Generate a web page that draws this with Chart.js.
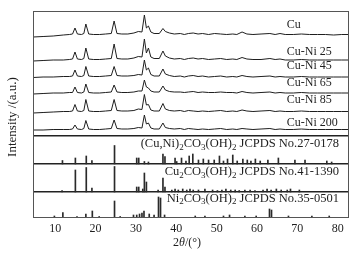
<!DOCTYPE html>
<html><head><meta charset="utf-8">
<script src="https://cdn.jsdelivr.net/npm/chart.js@4/dist/chart.umd.min.js"></script>
<style>html,body{margin:0;padding:0;background:#fff}#wrap{width:358px;height:256px;position:relative}</style>
</head><body><div id="wrap"><canvas id="c"></canvas></div>
<script>
// ---------- DATA ----------
const xrdTwoTheta = [4.5,7,9.5,12,13.5,14.3,14.9,15.5,16.5,17.1,17.6,18.3,19.5,21,22.5,23.9,24.6,25.3,26.5,28,29.5,30.6,31.5,32.1,32.6,33.1,33.7,34.5,35.8,36.7,37.3,38.3,39.5,41,42,43,44.2,45.4,46.5,48,49.5,51,52.5,54,55,56.3,57.5,59,61,63.2,64.5,65.7,67,69,71,73,75,77,79,81,82.8];
const cuCurve = [181,181.5,182,183,183.5,184,190,184,183.5,184.5,194,184,183.5,183.5,184,184.5,197,184.5,184,184,185,186.5,186,203,190,192,186,184.5,184.5,189.5,186.5,185,184,184.5,183.5,184.5,185,184,184.5,183.5,184.5,184,183.5,184,183.5,186,184,183.5,184,184.5,183.5,184.5,183.5,183.5,184,183.5,183.5,183.5,183,183.5,183.5];
const cuNi25Curve = [157,157.5,158,158,158.5,159,166,159,158.5,159.5,170,159,158.5,158.5,159,159.5,174,159.5,159,159,160,161.5,161,179,165,170,161,159.5,159.5,167,162,160,159,159.5,158.5,159.5,160,159,159.5,158.5,159,159.5,158.5,159,158.5,160.5,159,158.5,158.5,159.5,158.5,159,158,158,158.5,158,158,158,158,158,158];
const cuNi45Curve = [140.5,141,141,141.5,141.5,142,148,142,141.5,142.5,151.5,142,141.5,141.5,142,142.5,151.5,142.5,142,142,142.5,143.5,143,158,148,150,143.5,142,142,149,144,142.5,141.5,142,141,142,142.5,141.5,142,141,141.5,142,141,141.5,141,142.5,141.5,141,141.5,142,141,141.5,141,141,141.5,141,141,141,141,141,141];
const cuNi65Curve = [124,124.5,125,125,125.5,125.5,131,125.5,125,126,134,125.5,125,125,125.5,126,133,126,125.5,125.5,126,127,127,138,131,130,127,126,126,132,128,126.5,126,126,125.5,126,126.5,125.5,126,125.5,125.5,126,125.5,125.5,125,126.5,125.5,125,125.5,126,125,125.5,125,125,125.5,125,125,125,125,125,125];
const cuNi85Curve = [105,105.5,106,106.5,106.5,107,113.5,107,106.5,107.5,118.5,107,106.5,106.5,107,107.5,118.5,107.5,107,107,107.5,109,108.5,123.5,113,113.5,108,107,107,114.5,109,107.5,107,107.5,106.5,107.5,107,106.5,107,106.5,107,107.5,106.5,107,106.5,108,107,106.5,107,107.5,106.5,107,106.5,106.5,107,106.5,106.5,106.5,106.5,106.5,106.5];
const cuNi200Curve = [88,88,88.5,88.5,88.5,89,93,89,88.5,89.5,97.5,89,88.5,88.5,89,89.5,98,89.5,89,89,89.5,90.5,90,103,94,95,90,89,89,95,90.5,89.5,89,89.5,88.5,89.5,89,88.5,89,88.5,89,89.5,88.5,89,88.5,89.5,89,88.5,89,89.5,88.5,89,88.5,88.5,89,88.5,88.5,88.5,88.5,88.5,88.5];
const sampleNames = ['Cu','Cu-Ni 25','Cu-Ni 45','Cu-Ni 65','Cu-Ni 85','Cu-Ni 200'];

const cuNiRefPos = [11.8,15.0,17.7,19.1,24.7,30.2,30.7,32.1,33.1,36.7,37.2,39.7,40.1,41.3,42.4,43.2,44.1,45.5,46.7,48.0,49.4,50.7,51.7,52.7,54.0,55.1,56.5,57.6,58.5,59.6,60.8,62.7,65.3,69.4,71.9,77.3,78.5];
const cuNiRefInt = [3.5,6,8,3.5,18.5,6,6,2.5,2,10,7.5,6,2.5,6,3,8,10,4,5,4,4,8,3,5,9,3,5,4,3,5,3,4,6,4,4,3,2];
const cu2RefPos = [11.7,15.0,17.7,19.1,24.7,30.2,30.7,31.7,32.1,32.6,35.5,36.7,37.2,38.9,39.7,40.5,41.6,42.6,43.4,44.2,45.5,47.1,49.0,50.2,51.3,52.3,53.5,54.6,55.6,57.0,58.3,59.5,61.5,62.5,63.5,64.8,66.0,67.5,68.3,70.5];
const cu2RefInt = [1.5,22,24.5,4,25.5,5,5,3,19,10,2,14,5,2,3,2,3,2,3,2,2,3,2,1.5,2,3,2,2,1.5,2,2,1.5,2,3,2,3,2,2,3,2];
const niRefPos = [9.8,11.9,15.4,17.6,19.2,20.9,24.7,26.1,29.4,30.2,30.9,31.5,32.0,33.3,34.5,35.6,36.1,37.1,44.7,47.1,51.7,53.2,57.0,59.8,63.1,63.6,67.8,73.6,77.9];
const niRefInt = [2,5.5,1.5,4,7,1.5,17,1.5,3,3,4,5,7,4,3,21,20,3,2,2,2,3,2,2,9,8,2,2,2];
const refNames = ['(Cu,Ni)_2CO_3(OH)_2 JCPDS No.27-0178','Cu_2CO_3(OH)_2 JCPDS No.41-1390','Ni_2CO_3(OH)_2 JCPDS No.35-0501'];
const xTickValues = [10,20,30,40,50,60,70,80];
const xTitle = [['2','normal'],['θ','italic'],['/(°)','normal']];
const yTitle = 'Intensity /(a.u.)';

// ---------- LAYOUT (not data) ----------
const FONT = "'Liberation Serif','Times New Roman',serif";
const INK = '#1e1e1e';
const refBases = [54, 26, 0];
const panelLines = [26, 54, 82];
const sampleLabelAt = [[67.4,193],[67.4,166.3],[67.4,152.3],[67.4,135.3],[67.4,118],[67.4,95.3]];
const refLabelAt = [[80.3,74.5],[80.3,46.3],[80.3,19.7]];

const curves = [cuCurve, cuNi25Curve, cuNi45Curve, cuNi65Curve, cuNi85Curve, cuNi200Curve];
const datasets = curves.map((c, i) => ({
  type: 'line', label: sampleNames[i],
  data: xrdTwoTheta.map((x, j) => ({x, y: c[j]})),
  borderColor: INK, borderWidth: 1, pointRadius: 0, tension: 0, fill: false
}));
[[cuNiRefPos, cuNiRefInt],[cu2RefPos, cu2RefInt],[niRefPos, niRefInt]].forEach(([p, h], i) => {
  datasets.push({
    type: 'bar', label: refNames[i],
    data: p.map((x, j) => ({x, y: [refBases[i], refBases[i] + h[j]]})),
    backgroundColor: '#2a2a2a', borderWidth: 0, barThickness: 1, grouped: false
  });
});

function drawRich(ctx, str, x, y, align, size) {
  const segs = [];
  for (let i = 0; i < str.length; i++) {
    if (str[i] === '_') { segs.push([str[i+1], true]); i++; }
    else {
      if (segs.length && !segs[segs.length-1][1]) segs[segs.length-1][0] += str[i];
      else segs.push([str[i], false]);
    }
  }
  const sub = Math.round(size * 0.7);
  let total = 0;
  segs.forEach(s => { ctx.font = (s[1] ? sub : size) + 'px ' + FONT; s.w = ctx.measureText(s[0]).width; total += s.w; });
  let cx = align === 'right' ? x - total : (align === 'center' ? x - total/2 : x);
  ctx.textAlign = 'left'; ctx.textBaseline = 'middle';
  segs.forEach(s => {
    ctx.font = (s[1] ? sub : size) + 'px ' + FONT;
    ctx.fillText(s[0], cx, s[1] ? y + size*0.3 : y);
    cx += s.w;
  });
}

const decor = {
  id: 'decor',
  afterDatasetsDraw(chart) {
    const {ctx, chartArea: a, scales: {x, y}} = chart;
    ctx.save();
    ctx.strokeStyle = '#555'; ctx.lineWidth = 1;
    ctx.strokeRect(a.left + 0.5, a.top + 0.5, a.right - a.left - 1, a.bottom - a.top - 1);
    ctx.fillStyle = INK;
    sampleNames.forEach((n, i) => {
      drawRich(ctx, n, x.getPixelForValue(sampleLabelAt[i][0]), y.getPixelForValue(sampleLabelAt[i][1]), 'left', 12);
    });
    refNames.forEach((n, i) => {
      drawRich(ctx, n, x.getPixelForValue(refLabelAt[i][0]), y.getPixelForValue(refLabelAt[i][1]), 'right', 12.5);
    });
    // x title
    let total = 0;
    xTitle.forEach(s => { ctx.font = (s[1] === 'italic' ? 'italic ' : '') + '12px ' + FONT; s.w = ctx.measureText(s[0]).width; total += s.w; });
    let cx = 187 - total / 2;
    ctx.textAlign = 'left'; ctx.textBaseline = 'middle';
    xTitle.forEach(s => { ctx.font = (s[1] === 'italic' ? 'italic ' : '') + '12px ' + FONT; ctx.fillText(s[0], cx, 243); cx += s.w; });
    // y title
    ctx.translate(13, 117); ctx.rotate(-Math.PI / 2);
    ctx.font = '13px ' + FONT; ctx.textAlign = 'center';
    ctx.fillText(yTitle, 0, 0);
    ctx.restore();
  }
};

new Chart(document.getElementById('c'), {
  type: 'line',
  data: { datasets },
  options: {
    responsive: true, maintainAspectRatio: false, animation: false,
    layout: { padding: { left: 33, top: 11, right: 9, bottom: 0 } },
    plugins: { legend: { display: false }, tooltip: { enabled: false } },
    scales: {
      x: {
        type: 'linear', min: 4.5, max: 82.8, offset: false,
        afterBuildTicks: s => { s.ticks = xTickValues.map(v => ({value: v})); },
        afterFit: s => { s.height = 38; },
        grid: { display: false, drawTicks: false },
        border: { display: false },
        ticks: { padding: 4, color: INK, font: { family: FONT, size: 12 } }
      },
      y: {
        type: 'linear', min: 0, max: 207,
        afterBuildTicks: s => { s.ticks = panelLines.map(v => ({value: v})); },
        afterFit: s => { s.width = 0; },
        grid: { drawTicks: false, color: '#222', lineWidth: 1.5 },
        border: { display: false },
        ticks: { display: false }
      }
    }
  },
  plugins: [decor]
});
</script>
</body></html>
